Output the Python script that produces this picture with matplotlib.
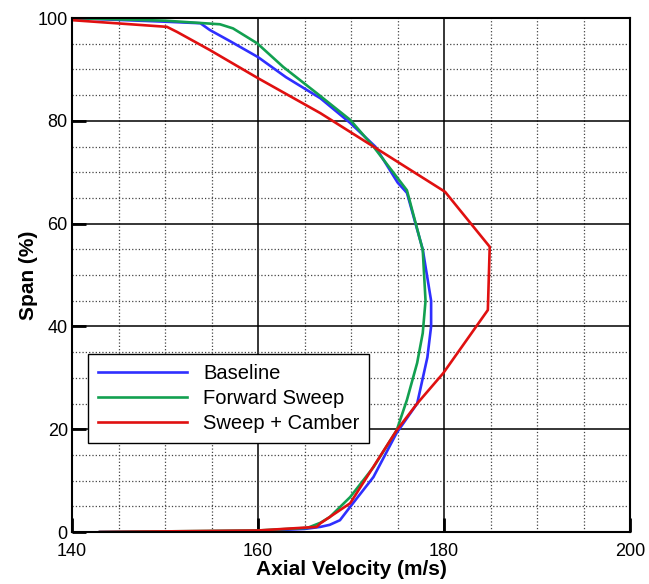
import matplotlib
matplotlib.use('Agg')
import matplotlib.pyplot as plt
from matplotlib.ticker import MultipleLocator

plt.rcParams['font.family'] = ['Liberation Sans', 'DejaVu Sans']

# Axial velocity (m/s) vs span (%)
baseline_x = [143, 160, 165, 166.7, 167.7, 168.8, 169.9, 172.4, 174.9, 177.1, 178.2, 178.6,
              178.6, 177.7, 176.0, 175.0, 172.6, 169.9, 166.7, 163.0, 160.0, 157.0, 154.8, 153.8, 150.0, 140]
baseline_y = [0, 0.2, 0.6, 1.0, 1.4, 2.3, 4.9, 10.7, 19.3, 25, 34, 40,
              45, 55, 66, 68, 75, 79.6, 84.4, 88.5, 92.4, 95.5, 97.7, 99.0, 99.3, 100]

fwd_x = [143, 160, 165.3, 166.7, 167.7, 169.9, 172.4, 174.9, 176.0, 177.1, 177.7, 178.0,
         177.7, 176.0, 172.4, 169.9, 166.3, 162.7, 159.9, 157.3, 155.9, 150.0, 140]
fwd_y = [0, 0.3, 0.8, 1.8, 2.9, 6.8, 12.6, 19.8, 25.7, 32.9, 38.7, 45,
         54.9, 66.5, 75, 80.2, 85.4, 90.5, 95.1, 98.0, 98.8, 99.5, 100]

camber_x = [143, 160, 164.5, 166.3, 166.7, 169.9, 174.9, 177.1, 179.9, 184.7, 184.9,
            180.1, 172.4, 166.7, 160.0, 154.8, 151.3, 150.2, 140]
camber_y = [0, 0.3, 0.8, 1.0, 1.7, 5.6, 19.8, 25, 30.9, 43.2, 55.5,
            66.2, 75, 81.5, 88.3, 93.8, 97.3, 98.3, 99.6]

fig = plt.figure(figsize=(6.49, 5.84), dpi=100)
ax = fig.add_axes([0.111, 0.089, 0.86, 0.88])

ax.plot(baseline_x, baseline_y, color='#2f2fff', lw=1.9, label='Baseline')
ax.plot(fwd_x, fwd_y, color='#12a050', lw=1.9, label='Forward Sweep')
ax.plot(camber_x, camber_y, color='#e01010', lw=1.9, label='Sweep + Camber')

ax.set_xlim(140, 200)
ax.set_ylim(0, 100)
ax.xaxis.set_major_locator(MultipleLocator(20))
ax.xaxis.set_minor_locator(MultipleLocator(5))
ax.yaxis.set_major_locator(MultipleLocator(20))
ax.yaxis.set_minor_locator(MultipleLocator(5))

ax.grid(which='major', color='black', lw=1.1, ls='-')
ax.grid(which='minor', color='#444444', lw=0.9, ls=':')
ax.set_axisbelow(True)

ax.tick_params(which='major', direction='in', length=10, width=2, labelsize=13)
ax.tick_params(axis='x', pad=8)
ax.tick_params(axis='y', pad=3)
ax.tick_params(which='minor', length=0)
for s in ax.spines.values():
    s.set_linewidth(1.5)

ax.set_xlabel('Axial Velocity (m/s)', fontsize=15, fontweight='bold', labelpad=0)
ax.set_ylabel('Span (%)', fontsize=15, fontweight='bold', labelpad=0)

leg = ax.legend(loc='lower left', bbox_to_anchor=(0.029, 0.173), fontsize=14.5,
                handlelength=4.4, fancybox=False, framealpha=1, edgecolor='black',
                borderaxespad=0, labelspacing=0.3, borderpad=0.5)
leg.get_frame().set_linewidth(1.0)

fig.savefig('out.png', dpi=100)
